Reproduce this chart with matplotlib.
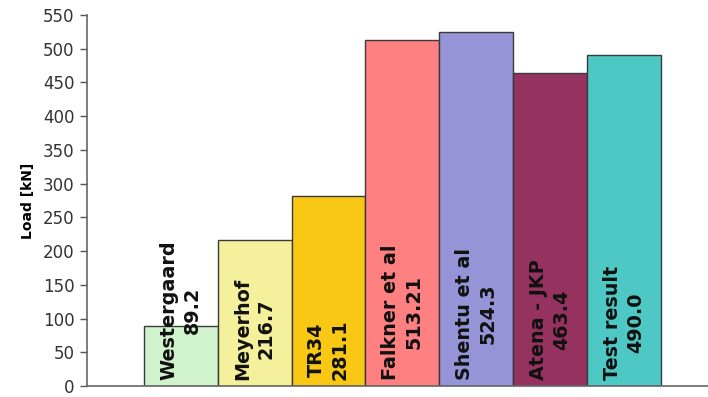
import matplotlib
matplotlib.use("Agg")
import matplotlib.pyplot as plt
import numpy as np

methods = ["Westergaard", "Meyerhof", "TR34", "Falkner et al", "Shentu et al", "Atena - JKP", "Test result"]
loads = [89.2, 216.7, 281.1, 513.21, 524.3, 463.4, 490.0]
load_labels = ["89.2", "216.7", "281.1", "513.21", "524.3", "463.4", "490.0"]
colors = ["#d0f2cc", "#f5f09b", "#f9c814", "#ff8080", "#9494d6", "#96325f", "#4ec8c4"]
yticks = list(range(0, 551, 50))

plt.rcParams["font.family"] = ["DejaVu Sans"]

fig = plt.figure(figsize=(7.08, 3.97), dpi=100)
ax = fig.add_axes([87 / 708, 11 / 397, 1 - 87 / 708, 371 / 397])

x = np.arange(len(methods))
ax.bar(x, loads, width=1.0, color=colors, edgecolor="#3a3a3a", linewidth=1.0, zorder=2)

for xi, name, lab in zip(x, methods, load_labels):
    ax.text(xi, 9, f"{name}\n{lab}", rotation=90, ha="center", va="bottom",
            multialignment="center", fontsize=13.8, fontweight="bold",
            color="#111111", linespacing=1.3, zorder=3)

ax.set_xlim(-0.5 - 0.77, len(methods) - 0.5 + 0.64)
ax.set_ylim(0, 550)
ax.set_yticks(yticks)
ax.set_xticks([])
ax.tick_params(axis="y", direction="out", length=5, width=1, color="#555555",
               labelsize=12, labelcolor="#333333", pad=4)
for s in ["top", "right"]:
    ax.spines[s].set_visible(False)
for s in ["left", "bottom"]:
    ax.spines[s].set_color("#666666")
    ax.spines[s].set_linewidth(1.2)
ax.set_ylabel("Load [kN]", fontsize=10, fontweight="bold", labelpad=6)

fig.savefig("out.png", dpi=100)
